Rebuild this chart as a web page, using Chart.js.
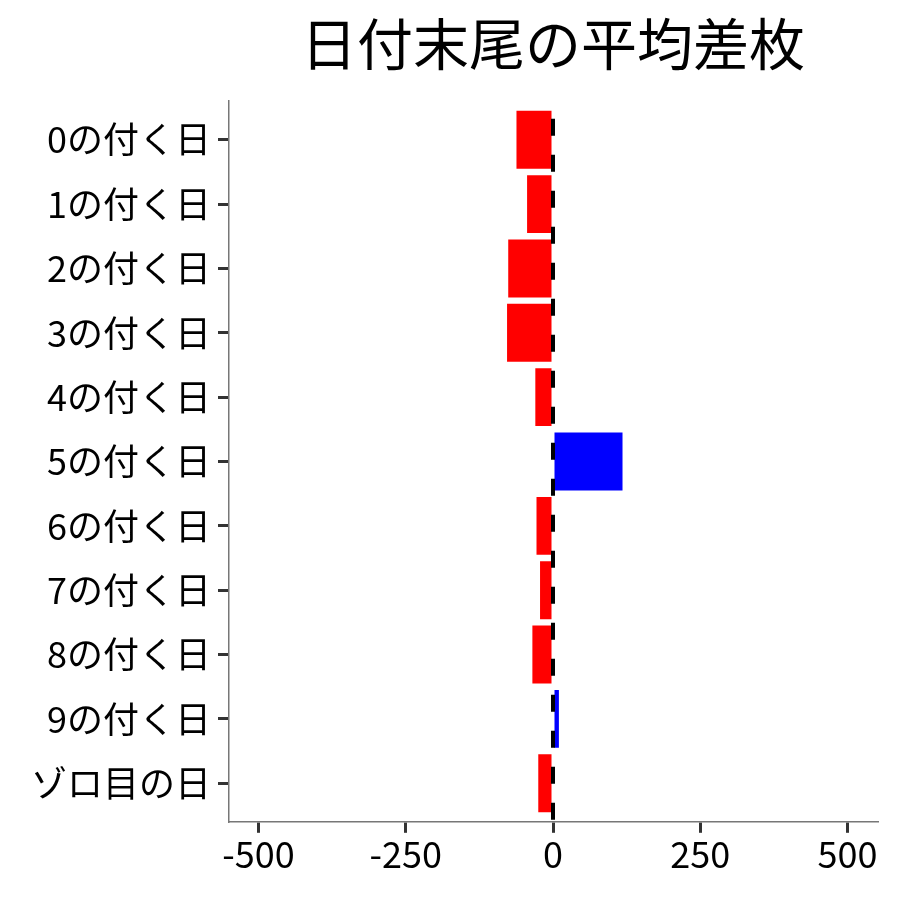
<!DOCTYPE html>
<html>
<head>
<meta charset="utf-8">
<script src="https://cdn.jsdelivr.net/npm/chart.js@4"></script>
<style>
  body { margin: 0; background: #fff; }
  #wrap { width: 900px; height: 900px; }
</style>
</head>
<body>
<div id="wrap"><canvas id="chart"></canvas></div>
<script>
const categories = ['0の付く日', '1の付く日', '2の付く日', '3の付く日', '4の付く日',
    '5の付く日', '6の付く日', '7の付く日', '8の付く日', '9の付く日', 'ゾロ目の日'];
const avgDiff = [-62, -44, -76, -78, -30, 118, -28, -22, -35, 10, -25];
const xTicks = [-500, -250, 0, 250, 500];

const FONT = "'Noto Sans CJK JP', 'Noto Sans', sans-serif";

// dashed line at zero
const zeroLine = {
    id: 'zeroLine',
    afterDatasetsDraw(chart) {
        const ctx = chart.ctx;
        const area = chart.chartArea;
        const x = chart.scales.x.getPixelForValue(0);
        ctx.save();
        ctx.strokeStyle = '#000';
        ctx.lineWidth = 4;
        ctx.setLineDash([17, 19]);
        ctx.lineDashOffset = 34;
        ctx.beginPath();
        ctx.moveTo(x, area.bottom);
        ctx.lineTo(x, area.top);
        ctx.stroke();
        ctx.restore();
    }
};

const ctx = document.getElementById('chart').getContext('2d');
const chart = new Chart(ctx, {
    type: 'bar',
    data: {
        datasets: [{
            data: avgDiff.map((v, i) => ({ x: v, y: i + 1 })),
            backgroundColor: avgDiff.map(v => v < 0 ? '#ff0000' : '#0000ff'),
            borderWidth: 0,
            barPercentage: 0.9,
            categoryPercentage: 1.0
        }]
    },
    options: {
        indexAxis: 'y',
        responsive: true,
        maintainAspectRatio: false,
        animation: false,
        layout: {
            padding: { left: 24, right: 23, top: 0, bottom: 24 }
        },
        plugins: {
            legend: { display: false },
            tooltip: { enabled: false },
            title: {
                display: true,
                text: '日付末尾の平均差枚',
                fullSize: false,
                color: '#000',
                font: { family: FONT, size: 56, weight: 'normal' },
                padding: { top: 10, bottom: 24 }
            }
        },
        scales: {
            x: {
                type: 'linear',
                min: -550,
                max: 550,
                afterBuildTicks: scale => {
                    scale.ticks = xTicks.map(v => ({ value: v }));
                },
                grid: {
                    drawOnChartArea: false,
                    color: '#333',
                    lineWidth: 3,
                    tickLength: 11
                },
                border: { color: '#777', width: 1.5 },
                ticks: {
                    color: '#000',
                    padding: 0,
                    font: { family: FONT, size: 36 }
                }
            },
            y: {
                type: 'linear',
                reverse: true,
                offset: false,
                min: 0.4,
                max: 11.6,
                afterBuildTicks: scale => {
                    scale.ticks = categories.map((c, i) => ({ value: i + 1 }));
                },
                grid: {
                    offset: false,
                    drawOnChartArea: false,
                    color: '#333',
                    lineWidth: 3,
                    tickLength: 11
                },
                border: { color: '#777', width: 1.5 },
                ticks: {
                    color: '#000',
                    padding: 7,
                    autoSkip: false,
                    font: { family: FONT, size: 36 },
                    callback: v => categories[v - 1]
                }
            }
        }
    },
    plugins: [zeroLine]
});
</script>
</body>
</html>
